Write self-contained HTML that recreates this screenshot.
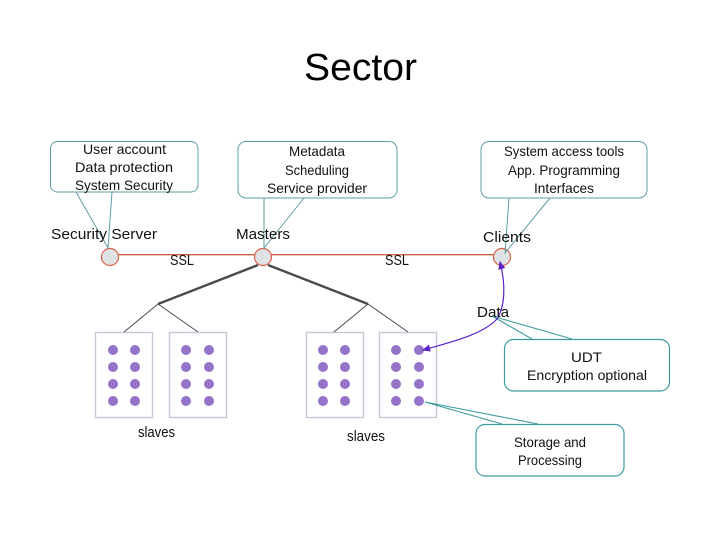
<!DOCTYPE html>
<html><head><meta charset="utf-8">
<style>
html,body{margin:0;padding:0;background:#fff;width:720px;height:540px;overflow:hidden}
svg{display:block;filter:blur(0.3px)}
text{font-family:"Liberation Sans",sans-serif;fill:#111;font-size:14px}
.c{fill:#fff;stroke:#5f9ea6;stroke-width:1}
.d{fill:#fff;stroke:#3f9a9e;stroke-width:1.2}
.p{fill:none;stroke:#5f9ea6;stroke-width:1}
.q{fill:none;stroke:#3f9a9e;stroke-width:1.1}
.b{fill:#fff;stroke:#c9c7d8;stroke-width:1.4}
.n{fill:#dfe3e6;stroke:#d9604a;stroke-width:1.2}
.t{fill:#9473c9}
</style></head><body>
<svg width="720" height="540" viewBox="0 0 720 540" xmlns="http://www.w3.org/2000/svg">
<defs><marker id="a" markerWidth="8" markerHeight="8" refX="6" refY="3" orient="auto"><path d="M0,0L7,3L0,6z" fill="#5a22c8"/></marker></defs>
<text x="304" y="80" textLength="113" lengthAdjust="spacingAndGlyphs" style="font-size:38px;fill:#000">Sector</text>

<!-- slave boxes -->
<rect class="b" x="95.500" y="332.500" width="57" height="85"/>
<rect class="b" x="169.500" y="332.500" width="57" height="85"/>
<rect class="b" x="306.500" y="332.500" width="57" height="85"/>
<rect class="b" x="379.500" y="332.500" width="57" height="85"/>
<g class="t">
<circle cx="113" cy="350" r="5"/><circle cx="135" cy="350" r="5"/><circle cx="113" cy="367" r="5"/><circle cx="135" cy="367" r="5"/><circle cx="113" cy="384" r="5"/><circle cx="135" cy="384" r="5"/><circle cx="113" cy="401" r="5"/><circle cx="135" cy="401" r="5"/>
<circle cx="186" cy="350" r="5"/><circle cx="209" cy="350" r="5"/><circle cx="186" cy="367" r="5"/><circle cx="209" cy="367" r="5"/><circle cx="186" cy="384" r="5"/><circle cx="209" cy="384" r="5"/><circle cx="186" cy="401" r="5"/><circle cx="209" cy="401" r="5"/>
<circle cx="323" cy="350" r="5"/><circle cx="345" cy="350" r="5"/><circle cx="323" cy="367" r="5"/><circle cx="345" cy="367" r="5"/><circle cx="323" cy="384" r="5"/><circle cx="345" cy="384" r="5"/><circle cx="323" cy="401" r="5"/><circle cx="345" cy="401" r="5"/>
<circle cx="396" cy="350" r="5"/><circle cx="419" cy="350" r="5"/><circle cx="396" cy="367" r="5"/><circle cx="419" cy="367" r="5"/><circle cx="396" cy="384" r="5"/><circle cx="419" cy="384" r="5"/><circle cx="396" cy="401" r="5"/><circle cx="419" cy="401" r="5"/>
</g>

<!-- tree -->
<path d="M258,265L158,304M268,265L368,304" stroke="#4a4a50" stroke-width="2.400" fill="none"/>
<path d="M158,304L124,332M158,304L198,332M368,304L334,332M368,304L408,332" stroke="#4a4a50" stroke-width="1" fill="none"/>

<!-- red line -->
<path d="M118,254.700H494" stroke="#c9603f" stroke-width="1.300" fill="none"/>

<!-- callouts -->
<rect class="c" x="50.500" y="141.500" width="147.500" height="50.500" rx="7"/>
<rect class="c" x="238" y="141.500" width="159" height="56.500" rx="8"/>
<rect class="c" x="481" y="141.500" width="166" height="56.500" rx="8"/>
<rect class="d" x="504.500" y="339.500" width="165" height="51.500" rx="9"/>
<rect class="d" x="476" y="424.500" width="148" height="51.500" rx="9"/>

<!-- nodes -->
<circle class="n" cx="110" cy="257" r="8.500"/>
<circle class="n" cx="263" cy="257" r="8.500"/>
<circle class="n" cx="502" cy="257" r="8.500"/>

<!-- pointers -->
<path class="p" d="M76,192L108,248L112,192"/>
<path class="p" d="M264,198L264,248L304,198"/>
<path class="p" d="M509,198L505,253L550,198"/>
<path class="q" d="M572,339L492,316L532,339"/>
<path class="q" d="M538,424L425,402L502,424"/>

<!-- purple data arrows -->
<path d="M497,319C505,306 506,285 500,262" fill="none" stroke="#5a22c8" stroke-width="1.200" marker-end="url(#a)"/>
<path d="M497,319C483,334 455,341 423,350" fill="none" stroke="#5a22c8" stroke-width="1.200" marker-end="url(#a)"/>

<!-- callout text -->
<text x="83" y="154" textLength="83" lengthAdjust="spacingAndGlyphs">User account</text>
<text x="75" y="172" textLength="98" lengthAdjust="spacingAndGlyphs">Data protection</text>
<text x="75" y="190" textLength="98" lengthAdjust="spacingAndGlyphs">System Security</text>
<text x="289" y="156" textLength="56" lengthAdjust="spacingAndGlyphs">Metadata</text>
<text x="285" y="175" textLength="64" lengthAdjust="spacingAndGlyphs">Scheduling</text>
<text x="267" y="193" textLength="100" lengthAdjust="spacingAndGlyphs">Service provider</text>
<text x="504" y="156" textLength="120" lengthAdjust="spacingAndGlyphs">System access tools</text>
<text x="508" y="175" textLength="112" lengthAdjust="spacingAndGlyphs">App. Programming</text>
<text x="534" y="193" textLength="60" lengthAdjust="spacingAndGlyphs">Interfaces</text>
<text x="571" y="362" textLength="31" lengthAdjust="spacingAndGlyphs">UDT</text>
<text x="527" y="380" textLength="120" lengthAdjust="spacingAndGlyphs">Encryption optional</text>
<text x="514" y="447" textLength="72" lengthAdjust="spacingAndGlyphs">Storage and</text>
<text x="518" y="465" textLength="64" lengthAdjust="spacingAndGlyphs">Processing</text>

<!-- labels -->
<text x="51" y="239" textLength="106" lengthAdjust="spacingAndGlyphs" style="font-size:15px">Security Server</text>
<text x="236" y="239" textLength="54" lengthAdjust="spacingAndGlyphs" style="font-size:15px">Masters</text>
<text x="483" y="242" textLength="48" lengthAdjust="spacingAndGlyphs" style="font-size:15px">Clients</text>
<text x="170" y="265" textLength="24" lengthAdjust="spacingAndGlyphs" style="font-size:15px">SSL</text>
<text x="385" y="265" textLength="24" lengthAdjust="spacingAndGlyphs" style="font-size:15px">SSL</text>
<text x="477" y="317" textLength="32" lengthAdjust="spacingAndGlyphs" style="font-size:15px">Data</text>
<text x="138" y="437" textLength="37" lengthAdjust="spacingAndGlyphs" style="font-size:15px">slaves</text>
<text x="347" y="441" textLength="38" lengthAdjust="spacingAndGlyphs" style="font-size:15px">slaves</text>
</svg>
</body></html>
